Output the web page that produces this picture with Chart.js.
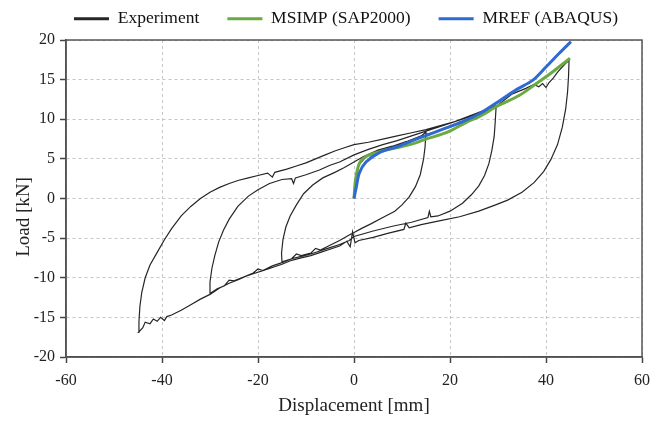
<!DOCTYPE html>
<html><head><meta charset="utf-8">
<script src="https://cdn.jsdelivr.net/npm/chart.js@4.4.1/dist/chart.umd.min.js"></script>
<style>html,body{margin:0;padding:0;background:#fff;}#wrap{width:662px;height:422px;}</style>
</head><body><div id="wrap"><canvas id="c" width="662" height="422"></canvas></div>
<script>
// ---- axis ticks ----
const xTickValues = [-60, -40, -20, 0, 20, 40, 60];
const yTickValues = [-20, -15, -10, -5, 0, 5, 10, 15, 20];
const seriesNames = ["Experiment", "MSIMP (SAP2000)", "MREF (ABAQUS)"];
const xTitle = "Displacement [mm]";
const yTitle = "Load [kN]";

// ---- Experiment (cyclic test, in loading order) ----
const expDisp = [
  0,0.3,1,2.5,5,8,11,13.5,15,
  14.8,14.5,13.8,12.8,11.5,10,8.5,6,3.5,1.5,0,-1,-3,-5,-7,-8,-9,-11,-12,-13,-15,
  -15.1,-14.8,-14.2,-13.3,-12,-10.5,-8.6,-6.5,-4,-2,0,2,5,8,11,14,17,20,23,26,28,29.6,
  29.4,29.2,28.7,28.1,27.2,26,24.5,22.6,20,17.5,16,15.7,15.4,12,8,4,0,-1,-3,-5,-7,-9,-11,-13,-15,-17,-19,-20,-21,-23,-25,-26,-27,-28.5,-30,
  -30,-29.6,-29,-28.2,-27.2,-26,-24.2,-22,-20,-17.6,-15,-13,-12.6,-12.2,-10,-7.2,-5,-3,0,3,6,9,12,15,18,21,24,27,30,33,35.8,37.5,38.5,39.3,40,40.6,41.5,42.5,44,44.8,
  44.7,44.5,44.1,43.4,42.4,41,39.5,37.5,35,32,29.5,26,22,18,14,11.5,10.8,10.4,7,4,1,0.2,-0.3,-0.8,-1.5,-3,-5,-7,-9,-11,-13,-15,-17,-19,-21,-22.5,-24,-26,-28,-30,-32,-34,-36,-38,-39,-39.5,-40.3,-41,-41.8,-42.5,-43.5,-44,-44.9,
  -44.8,-44.6,-44.2,-43.5,-42.5,-41,-39.5,-38,-36,-34,-32,-30,-28,-26,-24,-22,-20,-18,-17,-16.5,-14,-12,-10,-8,-6,-4,-2,0,3,6,9,12,15,18,21,24,27
];
const expLoad = [
  0,2.5,4.2,5.3,6.0,6.5,7.0,7.6,8.4,
  6.5,5.0,3.0,1.5,0.2,-0.8,-1.6,-2.4,-3.2,-3.8,-4.3,-4.6,-5.3,-5.9,-6.5,-6.3,-6.9,-7.2,-7.0,-7.6,-8.0,
  -6.9,-5.2,-3.6,-2.2,-0.8,0.6,1.7,2.6,3.3,3.9,4.6,5.3,6.1,6.6,7.2,7.9,8.4,9.0,9.7,10.6,11.1,11.5,
  9.5,7.8,6.0,4.4,2.9,1.6,0.5,-0.6,-1.6,-2.2,-2.3,-1.6,-2.4,-3.0,-3.5,-4.1,-4.8,-5.3,-5.8,-6.2,-6.6,-7.0,-7.3,-7.6,-8.1,-8.5,-9.1,-8.9,-9.4,-9.9,-10.4,-10.3,-11.0,-11.4,-12.0,
  -10.5,-8.8,-7.2,-5.5,-4.0,-2.6,-1.0,0.3,1.1,1.9,2.4,2.5,1.9,2.6,3.0,3.6,4.2,4.6,5.5,6.2,6.8,7.3,7.9,8.5,9.1,9.7,10.4,11.1,11.8,13.2,13.9,14.4,14.1,14.5,14.0,14.6,15.2,16.0,17.0,17.4,
  15.5,13.5,11.3,9.0,6.8,4.9,3.4,2.0,0.8,-0.2,-0.8,-1.6,-2.3,-2.8,-3.3,-3.7,-3.1,-3.9,-4.4,-4.9,-5.3,-5.6,-4.2,-6.1,-5.4,-6.0,-6.4,-6.8,-7.2,-7.5,-7.8,-8.3,-8.7,-9.1,-9.5,-9.8,-10.2,-10.7,-11.3,-12.1,-12.7,-13.4,-14.1,-14.7,-14.9,-15.4,-15.0,-15.5,-15.2,-15.8,-15.6,-16.3,-16.9,
  -15.5,-13.6,-11.8,-10.0,-8.4,-6.8,-5.2,-3.8,-2.2,-1.0,0.0,0.8,1.4,1.9,2.3,2.6,2.9,3.2,2.7,3.3,3.7,4.1,4.5,5.0,5.5,6.0,6.4,6.8,7.1,7.5,7.9,8.3,8.7,9.2,9.7,10.3,11.0
];

// ---- MSIMP (SAP2000) ----
const msimpDisp = [0,0.3,1.1,2.5,5.3,8.8,12.2,15,19.2,24,26,30,34.4,38,41,45];
const msimpLoad = [0,2.3,4.4,5.3,5.9,6.4,6.9,7.5,8.3,9.8,10.3,11.7,13.0,14.5,15.8,17.7];

// ---- MREF (ABAQUS) ----
const mrefDisp = [0,0.5,1.1,2.5,5.3,8.8,12.2,15.7,19.2,22.6,26.1,30.5,34,37.2,40,42.7,45.2];
const mrefLoad = [0,1.5,3.2,4.6,5.8,6.5,7.3,8.1,8.9,9.7,10.7,12.4,13.8,14.9,16.6,18.3,19.8];

const toXY = (xs, ys) => xs.map((x, i) => ({x: x, y: ys[i]}));

const FONT = "'Liberation Serif','Times New Roman',serif";

const frame = {
  id: 'frame',
  afterLayout(chart) {
    const lg = chart.legend;
    if (lg) { lg.left = 30; lg.right = 662; lg.top = -18; }
  },
  afterDraw(chart) {
    const {ctx, chartArea: a} = chart;
    ctx.save();
    ctx.strokeStyle = '#555';
    ctx.lineWidth = 1.5;
    ctx.strokeRect(a.left, a.top, a.right - a.left, a.bottom - a.top);
    // y-axis title (placed as in the reference, slightly below the axis middle)
    ctx.translate(24, 217);
    ctx.rotate(-Math.PI / 2);
    ctx.font = "19px " + FONT;
    ctx.fillStyle = '#222';
    ctx.textAlign = 'center';
    ctx.textBaseline = 'middle';
    ctx.fillText(yTitle, 0, 0);
    ctx.restore();
  }
};

new Chart(document.getElementById('c'), {
  type: 'scatter',
  data: {
    datasets: [
      {label: seriesNames[0], data: toXY(expDisp, expLoad), showLine: true, borderColor: '#262626', borderWidth: 1.2, pointRadius: 0, tension: 0, order: 3},
      {label: seriesNames[1], data: toXY(msimpDisp, msimpLoad), showLine: true, borderColor: '#6aab3f', borderWidth: 3, pointRadius: 0, tension: 0.3, order: 2},
      {label: seriesNames[2], data: toXY(mrefDisp, mrefLoad), showLine: true, borderColor: '#2f6ad2', borderWidth: 3, pointRadius: 0, tension: 0.3, order: 1}
    ]
  },
  options: {
    responsive: false,
    animation: false,
    devicePixelRatio: 1,
    layout: {padding: {left: 0, right: 20, top: 4, bottom: 0}},
    plugins: {
      tooltip: {enabled: false},
      legend: {
        display: true,
        position: 'top',
        maxHeight: 36,
        labels: {
          font: {family: FONT, size: 17.5},
          color: '#111',
          usePointStyle: true,
          pointStyle: 'line',
          pointStyleWidth: 35,
          padding: 28,
          generateLabels(chart) {
            const items = Chart.defaults.plugins.legend.labels.generateLabels(chart);
            items.forEach(it => { it.lineWidth = 3; it.pointStyle = 'line'; });
            return items.sort((a, b) => a.datasetIndex - b.datasetIndex);
          }
        }
      }
    },
    scales: {
      x: {
        type: 'linear', min: -60, max: 60,
        afterBuildTicks(s) { s.ticks = xTickValues.map(v => ({value: v})); },
        afterFit(s) { s.height = 65; },
        ticks: {font: {family: FONT, size: 16}, color: '#222', padding: 8},
        grid: {color: '#c6c6c6', lineWidth: 1, tickLength: 6, tickColor: '#444', tickWidth: 1.5, tickBorderDash: []},
        border: {display: true, color: '#444', width: 1.5, dash: [3, 3]},
        title: {display: true, text: xTitle, font: {family: FONT, size: 19}, color: '#222', padding: {top: 4, bottom: 5}}
      },
      y: {
        type: 'linear', min: -20, max: 20,
        afterBuildTicks(s) { s.ticks = yTickValues.map(v => ({value: v})); },
        afterFit(s) { s.width = 66; },
        ticks: {font: {family: FONT, size: 16}, color: '#222', padding: 5},
        grid: {color: '#c6c6c6', lineWidth: 1, tickLength: 6, tickColor: '#444', tickWidth: 1.5, tickBorderDash: []},
        border: {display: true, color: '#444', width: 1.5, dash: [3, 3]},
        title: {display: false}
      }
    }
  },
  plugins: [frame]
});
</script>
</body></html>
